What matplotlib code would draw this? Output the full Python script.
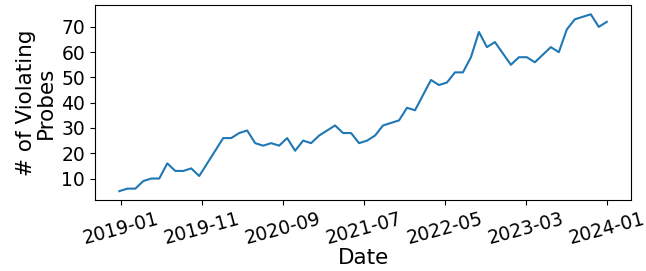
import numpy as np
import pandas as pd
import matplotlib
matplotlib.use("Agg")
import matplotlib.pyplot as plt
import matplotlib.dates as mdates

# Datos: una muestra cada 30 dias (algunas faltan)
all_dates = pd.date_range("2018-12-27", periods=62, freq="30D")
missing = [11, 12, 38, 48, 53]
probes = [5, 6, 6, 9, 10, 10, 16, 13, 13, 14, 11,
          26, 26, 28, 29, 24, 23, 24, 23, 26, 21, 25, 24, 27, 29, 31,
          28, 28, 24, 25, 27, 31, 32, 33, 38, 37,
          49, 47, 48, 52, 52, 58, 68, 62, 64,
          55, 58, 58, 56,
          62, 60, 69, 73, 74, 75, 70, 72]
dates = [d for k, d in enumerate(all_dates) if k not in missing]

tick_labels = ["2019-01", "2019-11", "2020-09", "2021-07", "2022-05", "2023-03", "2024-01"]

fig = plt.figure(figsize=(6.46, 2.71), dpi=100)
ax = fig.add_axes([0.147, 0.262, 0.83, 0.718])
ax.plot(dates, probes, color="tab:blue", linewidth=1.5)

ax.set_xticks(pd.to_datetime(tick_labels))
ax.xaxis.set_major_formatter(mdates.DateFormatter("%Y-%m"))
ax.set_yticks([10, 20, 30, 40, 50, 60, 70])
ax.tick_params(axis="both", labelsize=13.5)
plt.setp(ax.get_xticklabels(), rotation=15)

ax.set_xlabel("Date", fontsize=15.5, labelpad=0)
ax.set_ylabel("# of Violating\nProbes", fontsize=15.5, linespacing=1.0)

fig.savefig("out.png", dpi=100)
